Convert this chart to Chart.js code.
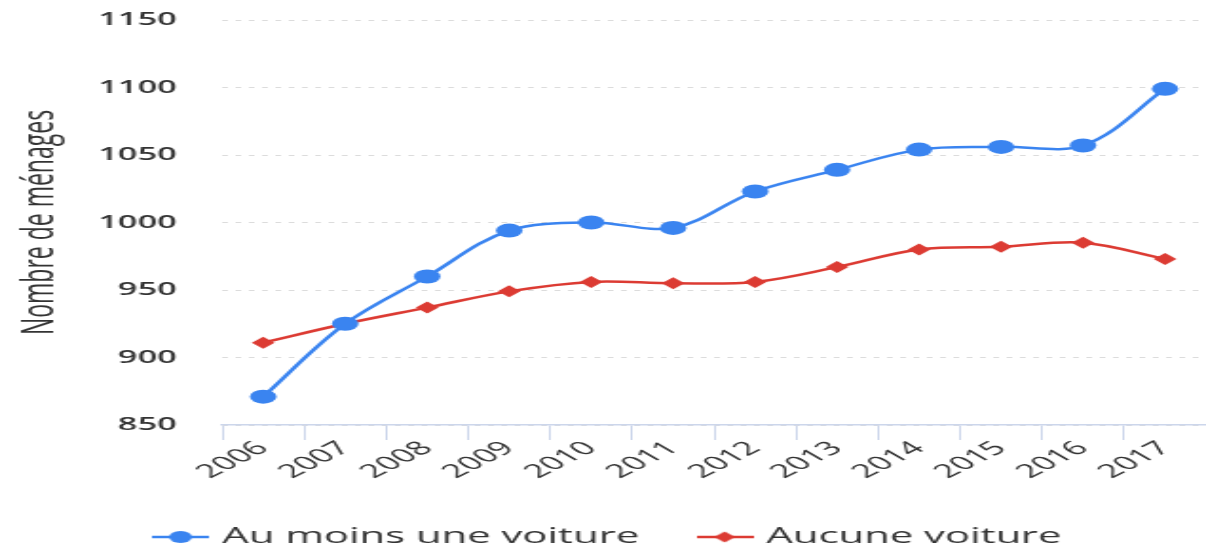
<!DOCTYPE html>
<html>
<head>
<meta charset="utf-8">
<script src="https://cdn.jsdelivr.net/npm/chart.js@4"></script>
<style>
  html, body { margin: 0; padding: 0; background: #fff; overflow: hidden; }
  /* the reference is a horizontally stretched picture, so the chart is drawn narrow and widened */
  #wrap { width: 635px; height: 551px; transform: scaleX(1.8992); transform-origin: 0 0; }
</style>
</head>
<body>
<div id="wrap"><canvas id="lineChart"></canvas></div>
<script>
const years = ['2006', '2007', '2008', '2009', '2010', '2011', '2012', '2013', '2014', '2015', '2016', '2017'];
const avecVoiture = [871, 925, 960, 994, 1000, 996, 1023, 1039, 1054, 1056, 1057, 1099];
const sansVoiture = [911, 925, 937, 949, 956, 955, 956, 967, 980, 982, 985, 973];
const seriesNames = ['Au moins une voiture', 'Aucune voiture'];
const yTitle = 'Nombre de ménages';

const blue = '#3a84f0';
const red = '#dc3b33';
const textColor = '#333333';

// small canvas for the legend: line with the marker in the middle
function legendSymbol(color, style) {
    const c = document.createElement('canvas');
    c.width = 30;
    c.height = 14;
    const g = c.getContext('2d');
    g.strokeStyle = color;
    g.fillStyle = color;
    g.lineWidth = 2.5;
    g.beginPath();
    g.moveTo(0, 7);
    g.lineTo(30, 7);
    g.stroke();
    g.beginPath();
    if (style === 'circle') {
        g.arc(15, 7, 6, 0, Math.PI * 2);
    } else {
        g.moveTo(15, 1.5); g.lineTo(20.5, 7); g.lineTo(15, 12.5); g.lineTo(9.5, 7);
        g.closePath();
    }
    g.fill();
    return c;
}
const symbols = [legendSymbol(blue, 'circle'), legendSymbol(red, 'diamond')];

const ctx = document.getElementById('lineChart').getContext('2d');
const lineChart = new Chart(ctx, {
    type: 'line',
    data: {
        labels: years,
        datasets: [{
            label: seriesNames[0],
            data: avecVoiture,
            borderColor: blue,
            backgroundColor: blue,
            borderWidth: 2.5,
            tension: 0.35,
            pointStyle: 'circle',
            pointRadius: 7,
            pointBorderWidth: 0,
            pointBackgroundColor: blue
        }, {
            label: seriesNames[1],
            data: sansVoiture,
            borderColor: red,
            backgroundColor: red,
            borderWidth: 2.5,
            tension: 0.35,
            pointStyle: 'rectRot',
            pointRadius: 6,
            pointBorderWidth: 0,
            pointBackgroundColor: red
        }]
    },
    options: {
        responsive: true,
        maintainAspectRatio: false,
        animation: false,
        layout: {
            autoPadding: false,
            padding: { top: 20, left: 8, right: 0, bottom: -7 }
        },
        scales: {
            x: {
                offset: true,
                grid: {
                    offset: true,
                    drawOnChartArea: false,
                    drawTicks: true,
                    tickLength: 15,
                    color: '#ccd6eb'
                },
                border: { display: true, color: '#ccd6eb', width: 1.5 },
                ticks: {
                    autoSkip: false,
                    minRotation: 43,
                    maxRotation: 43,
                    padding: -3,
                    color: textColor,
                    font: { family: 'Open Sans', size: 19 }
                },
                afterFit: function(scale) {
                    scale.height = 67;
                }
            },
            y: {
                min: 850,
                max: 1150,
                grid: {
                    drawTicks: false,
                    color: '#dcdcdc',
                    lineWidth: 1
                },
                border: { display: false, dash: [3, 4] },
                ticks: {
                    stepSize: 50,
                    padding: 24,
                    color: textColor,
                    font: { family: 'Open Sans', size: 18, weight: '600' },
                    callback: function(value) {
                        return String(value);
                    }
                },
                title: {
                    display: true,
                    text: yTitle,
                    color: textColor,
                    padding: { top: 0, bottom: 16 },
                    font: { family: 'Open Sans', size: 23 }
                },
                afterFit: function(scale) {
                    scale.width = 109;
                    // keep the label padding from pushing the plot down
                    scale.paddingTop = 8;
                    scale.paddingBottom = 8;
                }
            }
        },
        plugins: {
            legend: {
                position: 'bottom',
                labels: {
                    usePointStyle: true,
                    pointStyleWidth: 22,
                    boxHeight: 14,
                    padding: 34,
                    color: textColor,
                    font: { family: 'Open Sans', size: 22 },
                    generateLabels: function(chart) {
                        return chart.data.datasets.map(function(ds, i) {
                            return {
                                text: ds.label,
                                fillStyle: ds.borderColor,
                                strokeStyle: ds.borderColor,
                                fontColor: textColor,
                                lineWidth: 0,
                                pointStyle: symbols[i],
                                hidden: !chart.isDatasetVisible(i),
                                datasetIndex: i
                            };
                        });
                    }
                }
            },
            tooltip: { enabled: false }
        }
    }
});
</script>
</body>
</html>
